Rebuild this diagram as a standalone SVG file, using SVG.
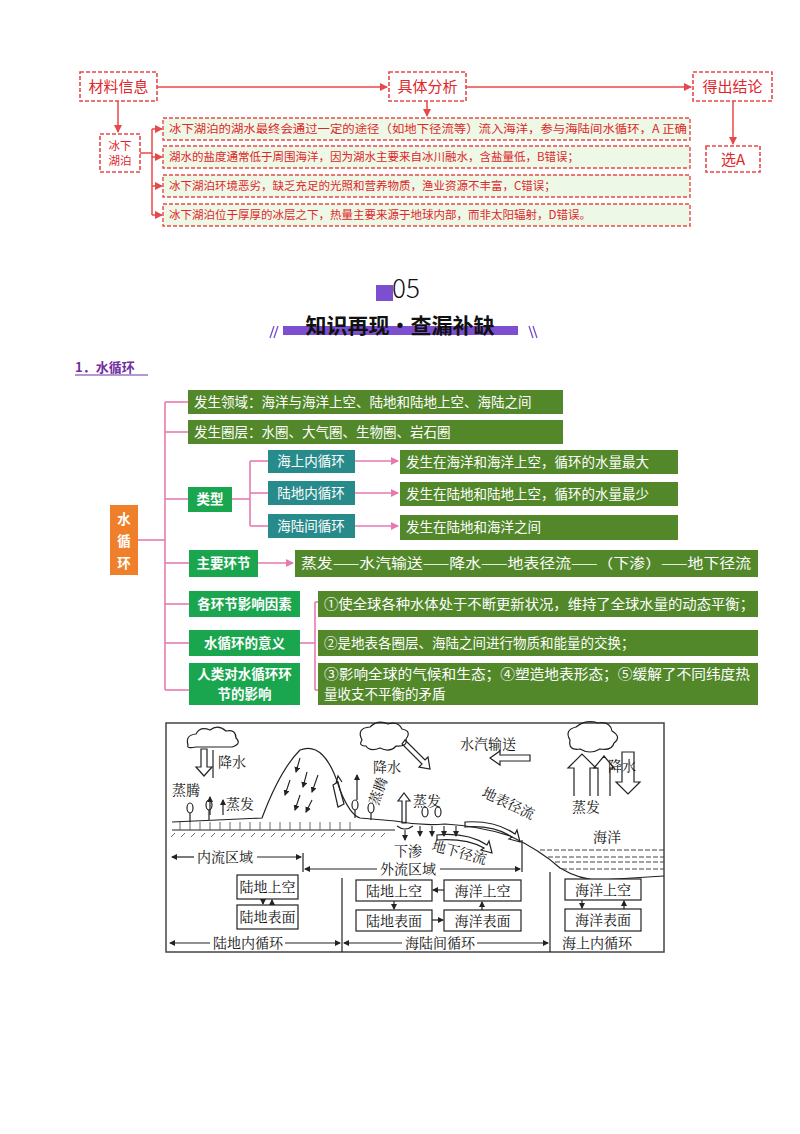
<svg xmlns="http://www.w3.org/2000/svg" width="800" height="1134" viewBox="0 0 800 1134">
<defs>
<style>
text{font-family:"Noto Sans CJK SC","Noto Sans",sans-serif}
.rb{fill:#fff;stroke:#e8484a;stroke-width:1.6;stroke-dasharray:4 2}
.rg{fill:#eef8e6;stroke:#e8484a;stroke-width:1.4;stroke-dasharray:4 2}
.rt{fill:#e0262a;font-size:15px}
.rs{fill:#e0262a;font-size:11.5px}
.rl{stroke:#e8484a;stroke-width:1.5;fill:none}
.og{fill:#52882a}
.bg{fill:#1aa64e}
.tl{fill:#288b8b}
.wt{fill:#fff;font-size:13.5px}
.wb{fill:#fff;font-size:13.5px;font-weight:bold}
.pl{stroke:#e67ab0;stroke-width:1.6;fill:none}
.bl{stroke:#222;stroke-width:1.2;fill:none}
.bk{fill:#111;font-family:"Noto Serif CJK SC","Noto Sans CJK SC",serif;font-size:14px}
.bx{fill:#fff;stroke:#222;stroke-width:1.2}
</style>
<marker id="ar" markerWidth="8" markerHeight="8" refX="7" refY="4" orient="auto" markerUnits="userSpaceOnUse"><path d="M0,0 L8,4 L0,8 z" fill="#e8484a"/></marker>
<marker id="ap" markerWidth="8" markerHeight="8" refX="7" refY="4" orient="auto" markerUnits="userSpaceOnUse"><path d="M0,0 L8,4 L0,8 z" fill="#e67ab0"/></marker>
<marker id="ab" markerWidth="6" markerHeight="6" refX="5" refY="3" orient="auto" markerUnits="userSpaceOnUse"><path d="M0,0 L6,3 L0,6 z" fill="#222"/></marker>
</defs>

<g id="connectors">
<line class="rl" x1="157" y1="87" x2="387" y2="87" marker-end="url(#ar)"/>
<line class="rl" x1="466" y1="87" x2="691" y2="87" marker-end="url(#ar)"/>
<line class="rl" x1="118" y1="101" x2="118" y2="132" marker-end="url(#ar)"/>
<line class="rl" x1="427" y1="101" x2="427" y2="116" marker-end="url(#ar)"/>
<line class="rl" x1="733" y1="101" x2="733" y2="144" marker-end="url(#ar)"/>
<polyline class="rl" points="140,153 152,153"/>
<line class="rl" x1="152" y1="129" x2="152" y2="215"/>
<line class="rl" x1="152" y1="129" x2="162" y2="129" marker-end="url(#ar)"/>
<line class="rl" x1="152" y1="157" x2="162" y2="157" marker-end="url(#ar)"/>
<line class="rl" x1="152" y1="186" x2="162" y2="186" marker-end="url(#ar)"/>
<line class="rl" x1="152" y1="215" x2="162" y2="215" marker-end="url(#ar)"/>

<line class="pl" x1="138" y1="540" x2="165" y2="540"/>
<line class="pl" x1="165" y1="402" x2="165" y2="690"/>
<line class="pl" x1="165" y1="402" x2="188" y2="402"/>
<line class="pl" x1="165" y1="432" x2="188" y2="432"/>
<line class="pl" x1="165" y1="499" x2="188" y2="499"/>
<line class="pl" x1="165" y1="563" x2="189" y2="563"/>
<line class="pl" x1="165" y1="604" x2="189" y2="604"/>
<line class="pl" x1="165" y1="643" x2="189" y2="643"/>
<line class="pl" x1="165" y1="690" x2="189" y2="690"/>
<line class="pl" x1="232" y1="499" x2="250" y2="499"/>
<line class="pl" x1="250" y1="461" x2="250" y2="526"/>
<line class="pl" x1="250" y1="461" x2="268" y2="461"/>
<line class="pl" x1="250" y1="493" x2="268" y2="493"/>
<line class="pl" x1="250" y1="526" x2="268" y2="526"/>
<line class="pl" x1="355" y1="461" x2="398" y2="461" marker-end="url(#ap)"/>
<line class="pl" x1="355" y1="493" x2="398" y2="493" marker-end="url(#ap)"/>
<line class="pl" x1="355" y1="526" x2="398" y2="526" marker-end="url(#ap)"/>
<line class="pl" x1="258" y1="563" x2="293" y2="563" marker-end="url(#ap)"/>
<line class="pl" x1="300" y1="643" x2="315" y2="643"/>
<line class="pl" x1="315" y1="602" x2="315" y2="690"/>
<line class="pl" x1="315" y1="602" x2="318" y2="602"/>
<line class="pl" x1="315" y1="690" x2="318" y2="690"/>
</g>

<g id="n-cailiao"><rect class="rb" x="80" y="72" width="77" height="29"/><text class="rt" x="118.5" y="92" text-anchor="middle">材料信息</text></g>
<g id="n-fenxi"><rect class="rb" x="389" y="72" width="77" height="29"/><text class="rt" x="427.5" y="92" text-anchor="middle">具体分析</text></g>
<g id="n-jielun"><rect class="rb" x="693" y="72" width="79" height="29"/><text class="rt" x="732.5" y="92" text-anchor="middle">得出结论</text></g>
<g id="n-hupo"><rect class="rb" x="100" y="134" width="40" height="38"/><text class="rs" x="120" y="150" text-anchor="middle">冰下</text><text class="rs" x="120" y="165" text-anchor="middle">湖泊</text></g>
<g id="n-a"><rect class="rg" x="163" y="118" width="527" height="22"/><text class="rs" x="169" y="133" textLength="518" lengthAdjust="spacingAndGlyphs">冰下湖泊的湖水最终会通过一定的途径（如地下径流等）流入海洋，参与海陆间水循环，A 正确</text></g>
<g id="n-b"><rect class="rg" x="163" y="146" width="527" height="22"/><text class="rs" x="169" y="161">湖水的盐度通常低于周围海洋，因为湖水主要来自冰川融水，含盐量低，B错误；</text></g>
<g id="n-c"><rect class="rg" x="163" y="175" width="527" height="22"/><text class="rs" x="169" y="190">冰下湖泊环境恶劣，缺乏充足的光照和营养物质，渔业资源不丰富，C错误；</text></g>
<g id="n-d"><rect class="rg" x="163" y="204" width="527" height="22"/><text class="rs" x="169" y="219">冰下湖泊位于厚厚的冰层之下，热量主要来源于地球内部，而非太阳辐射，D错误。</text></g>
<g id="n-xuana"><rect class="rb" x="706" y="146" width="54" height="26"/><text class="rt" x="733" y="165" text-anchor="middle">选A</text></g>

<g id="header">
<rect x="376" y="285" width="17" height="16" fill="#7b4fd0"/>
<text x="406" y="298" text-anchor="middle" font-family="DejaVu Sans,sans-serif" font-weight="300" font-size="26" fill="#111">05</text>
<rect x="283" y="326" width="235" height="9" fill="#7b4fd0"/>
<text x="400" y="333" text-anchor="middle" font-size="21" font-weight="bold" fill="#111">知识再现·查漏补缺</text>
<path d="M270,338 L274,326 M274,338 L278,326" stroke="#7b4fd0" stroke-width="1.3"/>
<path d="M529,326 L533,338 M533,326 L537,338" stroke="#7b4fd0" stroke-width="1.3"/>
<text x="75" y="372" font-size="13" font-weight="bold" fill="#7030a0">1．水循环</text>
<line x1="75" y1="375" x2="148" y2="375" stroke="#7030a0" stroke-width="1.2"/>
</g>

<g id="n-root"><rect x="110" y="505" width="28" height="70" fill="#ef7f2a"/><text x="124" y="524" class="wb" font-size="16" text-anchor="middle">水</text><text x="124" y="546" class="wb" font-size="16" text-anchor="middle">循</text><text x="124" y="568" class="wb" font-size="16" text-anchor="middle">环</text></g>
<g id="n-ly"><rect class="og" x="188" y="390" width="375" height="24"/><text class="wt" x="194" y="407">发生领域：海洋与海洋上空、陆地和陆地上空、海陆之间</text></g>
<g id="n-qc"><rect class="og" x="188" y="420" width="375" height="24"/><text class="wt" x="194" y="437">发生圈层：水圈、大气圈、生物圈、岩石圈</text></g>
<g id="n-lx"><rect class="bg" x="188" y="487" width="44" height="25"/><text class="wb" x="210" y="504" text-anchor="middle">类型</text></g>
<g id="n-hs"><rect class="tl" x="268" y="450" width="87" height="23"/><text class="wt" x="311" y="466" text-anchor="middle">海上内循环</text></g>
<g id="n-ld"><rect class="tl" x="268" y="481" width="87" height="24"/><text class="wt" x="311" y="498" text-anchor="middle">陆地内循环</text></g>
<g id="n-hl"><rect class="tl" x="268" y="514" width="87" height="24"/><text class="wt" x="311" y="531" text-anchor="middle">海陆间循环</text></g>
<g id="n-r1"><rect class="og" x="400" y="450" width="278" height="24"/><text class="wt" x="406" y="467">发生在海洋和海洋上空，循环的水量最大</text></g>
<g id="n-r2"><rect class="og" x="400" y="482" width="278" height="24"/><text class="wt" x="406" y="499">发生在陆地和陆地上空，循环的水量最少</text></g>
<g id="n-r3"><rect class="og" x="400" y="515" width="278" height="25"/><text class="wt" x="406" y="532">发生在陆地和海洋之间</text></g>
<g id="n-zy"><rect class="bg" x="189" y="550" width="69" height="27"/><text class="wb" x="223.5" y="568" text-anchor="middle">主要环节</text></g>
<g id="n-zyr"><rect class="og" x="295" y="550" width="463" height="27"/><text class="wt" x="301" y="568" textLength="450" lengthAdjust="spacingAndGlyphs">蒸发——水汽输送——降水——地表径流——（下渗）——地下径流</text></g>
<g id="n-ys"><rect class="bg" x="189" y="591" width="111" height="26"/><text class="wb" x="244.5" y="609" text-anchor="middle">各环节影响因素</text></g>
<g id="n-yy"><rect class="bg" x="189" y="630" width="111" height="26"/><text class="wb" x="244.5" y="648" text-anchor="middle">水循环的意义</text></g>
<g id="n-rl"><rect class="bg" x="189" y="663" width="111" height="42"/><text class="wb" x="244.5" y="679" text-anchor="middle">人类对水循环环</text><text class="wb" x="244.5" y="699" text-anchor="middle">节的影响</text></g>
<g id="n-m1"><rect class="og" x="318" y="591" width="440" height="26"/><text class="wt" x="324" y="609" textLength="430" lengthAdjust="spacingAndGlyphs">①使全球各种水体处于不断更新状况，维持了全球水量的动态平衡；</text></g>
<g id="n-m2"><rect class="og" x="318" y="630" width="440" height="26"/><text class="wt" x="324" y="648">②是地表各圈层、海陆之间进行物质和能量的交换；</text></g>
<g id="n-m3"><rect class="og" x="318" y="663" width="440" height="42"/><text class="wt" x="324" y="679" textLength="426" lengthAdjust="spacingAndGlyphs">③影响全球的气候和生态；④塑造地表形态；⑤缓解了不同纬度热</text><text class="wt" x="324" y="699">量收支不平衡的矛盾</text></g>

<g id="illustration">
<rect x="166" y="723" width="498" height="229" fill="#fff" stroke="#444" stroke-width="1.5"/>
<path class="bl" d="M188,745 q-3,-10 8,-11 q4,-8 14,-4 q8,-6 16,1 q10,-2 10,7 q6,6 -4,9 l-36,0 q-10,2 -8,-2 z"/>
<path class="bl" d="M362,740 q-6,-12 8,-13 q8,-8 18,-3 q10,-3 14,5 q10,2 4,10 q2,8 -10,7 q-6,7 -16,2 q-10,4 -14,-2 q-8,0 -4,-6 z"/>
<path class="bl" d="M570,740 q-6,-10 6,-13 q10,-8 22,-4 q12,-2 14,8 q10,6 2,12 q-2,8 -14,6 q-10,6 -20,0 q-12,2 -10,-9 z"/>
<path class="bl" d="M172,822 L262,818 Q280,770 300,750 Q325,740 340,790 Q350,815 360,818 L395,821 Q420,826 445,824 Q480,826 510,836 Q540,850 560,868 Q580,880 600,880 L664,876"/>
<line class="bl" x1="172" y1="830" x2="395" y2="830"/>
<path d="M175,833 l-4,4 M185,833 l-4,4 M195,833 l-4,4 M205,833 l-4,4 M215,833 l-4,4 M225,833 l-4,4 M235,833 l-4,4 M245,833 l-4,4 M255,833 l-4,4 M265,833 l-4,4 M275,833 l-4,4 M285,833 l-4,4 M295,833 l-4,4 M305,833 l-4,4 M315,833 l-4,4 M325,833 l-4,4 M335,833 l-4,4 M345,833 l-4,4 M355,833 l-4,4 M365,833 l-4,4 M375,833 l-4,4 M385,833 l-4,4" stroke="#444" stroke-width="0.8"/>
<path d="M180,822 v8 M190,822 v8 M200,822 v8 M210,822 v8 M220,822 v8 M230,822 v8 M240,822 v8 M250,822 v8 M260,822 v8 M270,822 v8 M280,822 v8 M290,822 v8 M300,822 v8 M310,822 v8 M320,822 v8 M330,822 v8 M340,822 v8 M350,822 v8" stroke="#444" stroke-width="0.8"/>
<path d="M540,850 H664 M548,857 H664 M555,862 H664 M562,869 H664" stroke="#444" stroke-width="1" stroke-dasharray="5 2"/>
<ellipse class="bl" cx="190" cy="808" rx="3" ry="5"/><line class="bl" x1="190" y1="813" x2="190" y2="822"/>
<ellipse class="bl" cx="209" cy="805" rx="3" ry="5"/><line class="bl" x1="209" y1="810" x2="209" y2="820"/>
<ellipse class="bl" cx="355" cy="805" rx="3" ry="5"/><line class="bl" x1="355" y1="810" x2="355" y2="818"/>
<ellipse class="bl" cx="371" cy="808" rx="3" ry="5"/><line class="bl" x1="371" y1="813" x2="371" y2="820"/>
<ellipse class="bl" cx="425" cy="812" rx="3" ry="5"/><ellipse class="bl" cx="438" cy="812" rx="3" ry="5"/>
<path class="bl" d="M201,749 v18 h-5 l8,9 l8,-9 h-5 v-18 z"/>
<line class="bl" x1="213" y1="778" x2="213" y2="750"/>
<line class="bl" x1="210" y1="815" x2="210" y2="797" marker-end="url(#ab)"/>
<line class="bl" x1="223" y1="815" x2="223" y2="800" marker-end="url(#ab)"/>
<line class="bl" x1="357" y1="800" x2="357" y2="775" marker-end="url(#ab)"/>
<g stroke="#222" stroke-width="1.1"><line x1="300" y1="758" x2="296" y2="772" marker-end="url(#ab)"/><line x1="290" y1="780" x2="285" y2="795" marker-end="url(#ab)"/><line x1="307" y1="772" x2="303" y2="787" marker-end="url(#ab)"/><line x1="300" y1="795" x2="295" y2="810" marker-end="url(#ab)"/><line x1="318" y1="775" x2="312" y2="792" marker-end="url(#ab)"/><line x1="312" y1="800" x2="306" y2="812" marker-end="url(#ab)"/></g>
<path class="bl" d="M333,785 l5,-3 l6,22 l-6,3 z M336,783 l2,-7 l4,6"/>
<path class="bl" d="M405,740 l20,20 l3,-3 l2,12 l-11,-2 l3,-3 l-20,-20 z"/>
<path class="bl" d="M402,823 v-22 h-4 l6,-8 l6,8 h-4 v22 z"/>
<path class="bl" d="M530,755 h-30 v-4 l-10,7 l10,7 v-4 h30 z"/>
<path class="bl" d="M574,796 v-28 h-6 l14,-14 l14,14 h-6 v28"/><path class="bl" d="M598,796 v-28 h-4 l10,-12 l10,12 h-4 v28"/>
<path class="bl" d="M622,752 v30 h-6 l12,12 l12,-12 h-6 v-30 z"/>
<path class="bl" d="M465,822 q30,-2 50,12 l2,-4 l3,12 l-11,-3 l3,-2 q-18,-12 -47,-10 z"/>
<path class="bl" d="M437,835 q30,-3 50,10 l2,-4 l3,12 l-11,-3 l3,-2 q-18,-10 -47,-8 z"/>
<g stroke="#222" stroke-width="1.1"><line x1="405" y1="830" x2="405" y2="840" marker-end="url(#ab)"/><line x1="420" y1="826" x2="420" y2="836" marker-end="url(#ab)"/><line x1="432" y1="826" x2="432" y2="836" marker-end="url(#ab)"/><line x1="444" y1="826" x2="444" y2="836" marker-end="url(#ab)"/><line x1="456" y1="826" x2="456" y2="836" marker-end="url(#ab)"/></g>
<path class="bl" d="M397,826 q8,6 16,0"/>
<text class="bk" x="218" y="767">降水</text>
<text class="bk" x="172" y="795">蒸腾</text>
<text class="bk" x="226" y="809">蒸发</text>
<text class="bk" x="373" y="772">降水</text>
<text class="bk" transform="translate(378,806) rotate(-70)">蒸腾</text>
<text class="bk" x="413" y="806">蒸发</text>
<text class="bk" x="460" y="749">水汽输送</text>
<text class="bk" transform="translate(481,796) rotate(25)">地表径流</text>
<text class="bk" x="394" y="856">下渗</text>
<text class="bk" transform="translate(431,850) rotate(15)">地下径流</text>
<text class="bk" x="593" y="842">海洋</text>
<text class="bk" x="608" y="771">降水</text>
<text class="bk" x="572" y="812">蒸发</text>
<text class="bk" x="197" y="862">内流区域</text>
<line class="bl" x1="194" y1="857" x2="172" y2="857" marker-end="url(#ab)"/>
<line class="bl" x1="257" y1="857" x2="301" y2="857" marker-end="url(#ab)"/>
<line class="bl" x1="303" y1="853" x2="303" y2="872"/>
<text class="bk" x="380" y="874">外流区域</text>
<line class="bl" x1="377" y1="869" x2="305" y2="869" marker-end="url(#ab)"/>
<line class="bl" x1="440" y1="869" x2="520" y2="869" marker-end="url(#ab)"/>
<line class="bl" x1="522" y1="840" x2="522" y2="872"/>
<line class="bl" x1="342" y1="878" x2="342" y2="952"/>
<line class="bl" x1="550" y1="872" x2="550" y2="952"/>
<rect class="bx" x="237" y="875" width="61" height="24"/><text class="bk" x="267.5" y="892" text-anchor="middle">陆地上空</text>
<rect class="bx" x="237" y="905" width="61" height="24"/><text class="bk" x="267.5" y="922" text-anchor="middle">陆地表面</text>
<line class="bl" x1="263" y1="899" x2="263" y2="904" marker-end="url(#ab)"/>
<line class="bl" x1="272" y1="905" x2="272" y2="900" marker-end="url(#ab)"/>
<rect class="bx" x="356" y="880" width="76" height="21"/><text class="bk" x="394" y="896" text-anchor="middle">陆地上空</text>
<rect class="bx" x="444" y="880" width="77" height="21"/><text class="bk" x="482.5" y="896" text-anchor="middle">海洋上空</text>
<rect class="bx" x="356" y="910" width="76" height="21"/><text class="bk" x="394" y="926" text-anchor="middle">陆地表面</text>
<rect class="bx" x="444" y="910" width="77" height="21"/><text class="bk" x="482.5" y="926" text-anchor="middle">海洋表面</text>
<line class="bl" x1="444" y1="890" x2="433" y2="890" marker-end="url(#ab)"/>
<line class="bl" x1="394" y1="901" x2="394" y2="909" marker-end="url(#ab)"/>
<line class="bl" x1="432" y1="920" x2="443" y2="920" marker-end="url(#ab)"/>
<line class="bl" x1="482" y1="910" x2="482" y2="902" marker-end="url(#ab)"/>
<rect class="bx" x="565" y="879" width="76" height="21"/><text class="bk" x="603" y="895" text-anchor="middle">海洋上空</text>
<rect class="bx" x="565" y="909" width="76" height="22"/><text class="bk" x="603" y="925" text-anchor="middle">海洋表面</text>
<line class="bl" x1="582" y1="900" x2="582" y2="908" marker-end="url(#ab)"/>
<line class="bl" x1="624" y1="909" x2="624" y2="901" marker-end="url(#ab)"/>
<text class="bk" x="213" y="948">陆地内循环</text>
<line class="bl" x1="210" y1="943" x2="170" y2="943" marker-end="url(#ab)"/>
<line class="bl" x1="285" y1="943" x2="340" y2="943" marker-end="url(#ab)"/>
<text class="bk" x="405" y="948">海陆间循环</text>
<line class="bl" x1="402" y1="943" x2="344" y2="943" marker-end="url(#ab)"/>
<line class="bl" x1="477" y1="943" x2="548" y2="943" marker-end="url(#ab)"/>
<text class="bk" x="562" y="948">海上内循环</text>
</g>
</svg>
